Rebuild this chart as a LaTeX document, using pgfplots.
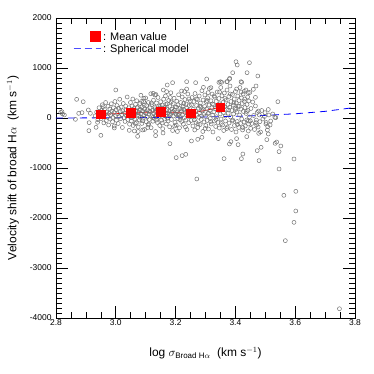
\documentclass[border=0pt]{standalone}
\usepackage{amsmath}
\usepackage{fontspec}
\setmainfont{Liberation Sans}
\usepackage{pgfplots}
\usepackage{pgfplotstable}
\pgfplotsset{compat=1.18}

% velocity shift vs log sigma, individual objects
\pgfplotstableread{
x y
2.816 113
2.822 80
2.820 127
2.828 60
2.865 -27
2.869 373
2.876 93
2.887 107
2.891 326
2.908 160
2.910 -253
2.911 -93
2.915 93
2.934 -187
2.939 -87
2.950 -347
2.958 227
2.995 -200
3.000 560
3.045 -247
3.073 -367
3.075 -270
3.090 -240
3.133 -353
3.181 -513
3.202 -793
3.222 -753
3.234 -727
3.271 -1220
3.253 -460
3.274 -427
3.288 -387
3.343 -413
3.362 -813
3.380 -520
3.385 -473
3.409 -533
3.404 -413
3.420 -813
3.425 -720
3.438 -373
3.451 -207
3.479 -853
3.473 -653
3.486 -587
3.478 -307
3.507 -240
3.510 -320
3.505 -433
3.538 -480
3.533 -507
3.552 -560
3.546 -673
3.546 -1020
3.596 -820
3.562 -1547
3.602 -1467
3.602 -1860
3.596 -2087
3.567 -2453
3.748 -3815
3.502 -120
3.508 -173
3.516 -140
3.469 -93
3.482 -73
3.402 1126
3.406 1060
3.447 1106
3.439 906
3.475 840
3.391 906
3.304 780
3.237 726
3.267 706
3.190 706
3.172 660
3.419 726
3.380 780
3.371 726
3.350 726
3.542 326
3.469 640
3.460 573
3.467 413
3.499 107
3.512 60
3.532 13
3.159 560
3.170 527
3.220 540
3.237 580
3.293 613
3.309 507
3.125 493
3.131 460
3.094 393
3.404 580
3.430 533
3.443 507
3.318 607
3.354 713
3.345 713
3.373 727
3.381 793
3.421 713
3.477 140
3.535 7
3.471 -140
3.443 -60
2.931 42
2.936 118
2.940 -35
2.944 205
2.947 88
2.951 -12
2.953 150
2.955 265
2.958 31
2.960 -98
2.962 172
2.964 74
2.966 310
2.968 -55
2.970 120
2.972 22
2.974 235
2.976 -140
2.978 95
2.980 180
2.981 -20
2.983 60
2.985 285
2.987 140
2.989 -75
2.990 10
2.992 205
2.994 110
2.995 -160
2.997 330
2.999 48
3.001 165
3.002 -45
3.004 250
3.006 85
3.008 -110
3.009 195
3.011 30
3.013 375
3.015 128
3.016 -15
3.018 220
3.020 68
3.022 -190
3.023 145
3.025 290
3.027 5
3.029 102
3.031 -70
3.033 240
3.034 160
3.036 40
3.038 420
3.040 -30
3.042 125
3.044 205
3.046 -125
3.047 80
3.049 310
3.050 18
3.051 150
3.052 -60
3.054 240
3.055 95
3.057 380
3.058 -150
3.060 30
3.061 190
3.063 70
3.064 -20
3.066 275
3.067 130
3.069 -95
3.070 345
3.072 55
3.073 210
3.075 -180
3.076 110
3.078 160
3.079 -40
3.081 290
3.082 12
3.084 455
3.085 85
3.087 -110
3.088 225
3.090 140
3.091 -5
3.093 330
3.094 60
3.096 -230
3.097 180
3.099 105
3.100 400
3.102 -75
3.103 250
3.105 20
3.106 165
3.108 -140
3.109 310
3.111 75
3.112 -30
3.114 205
3.115 120
3.117 485
3.118 -195
3.120 45
3.121 265
3.123 150
3.124 -65
3.126 355
3.127 90
3.129 -10
3.130 220
3.132 135
3.133 -270
3.135 60
3.136 300
3.138 175
3.139 -90
3.141 410
3.142 15
3.144 240
3.145 100
3.147 -150
3.148 190
3.150 325
3.151 50
3.153 -45
3.154 145
3.156 260
3.157 -215
3.159 80
3.160 375
3.162 125
3.163 -20
3.165 215
3.166 440
3.168 35
3.169 -120
3.171 170
3.172 285
3.174 95
3.175 -60
3.177 350
3.178 140
3.180 -175
3.181 230
3.183 65
3.184 505
3.186 -30
3.187 180
3.189 110
3.190 -250
3.192 290
3.193 40
3.195 395
3.196 155
3.198 -85
3.199 220
3.201 75
3.202 -140
3.204 335
3.205 120
3.207 -10
3.208 265
3.210 465
3.211 90
3.213 -195
3.214 190
3.216 30
3.217 310
3.219 145
3.220 -70
3.222 420
3.223 60
3.225 235
3.226 -125
3.228 170
3.229 5
3.231 370
3.232 110
3.234 -40
3.235 280
3.237 195
3.238 -230
3.240 85
3.241 480
3.243 150
3.244 -95
3.246 250
3.247 25
3.249 340
3.250 120
3.053 10
3.059 120
3.065 -110
3.071 205
3.077 45
3.083 170
3.089 -55
3.095 255
3.101 90
3.107 -190
3.113 140
3.119 300
3.125 15
3.131 185
3.137 -40
3.143 95
3.149 230
3.155 -100
3.161 160
3.167 270
3.173 -5
3.179 80
3.185 320
3.191 130
3.197 -160
3.203 215
3.209 55
3.215 -35
3.221 180
3.227 290
3.233 -180
3.239 140
3.245 380
3.062 -260
3.086 330
3.110 -120
3.134 470
3.158 -300
3.182 410
3.206 -270
3.230 530
3.252 -50
3.253 260
3.255 410
3.256 80
3.258 -160
3.259 175
3.261 330
3.262 20
3.264 -240
3.265 490
3.267 135
3.268 -90
3.270 250
3.271 55
3.273 370
3.274 -190
3.276 195
3.277 15
3.279 440
3.280 105
3.282 -130
3.283 300
3.285 220
3.286 -30
3.288 545
3.289 140
3.291 -270
3.292 360
3.294 70
3.295 -80
3.297 230
3.298 460
3.300 30
3.301 -150
3.303 320
3.304 180
3.306 -50
3.307 405
3.309 90
3.310 -220
3.312 260
3.313 590
3.315 150
3.316 -10
3.318 345
3.319 -120
3.321 205
3.322 480
3.324 60
3.325 -280
3.327 270
3.328 120
3.330 -60
3.331 415
3.333 190
3.334 -170
3.336 330
3.337 25
3.339 520
3.340 240
3.342 -90
3.343 150
3.345 390
3.346 -200
3.348 285
3.349 80
3.351 610
3.352 -20
3.354 200
3.355 445
3.357 -140
3.358 310
3.360 110
3.361 -250
3.363 500
3.364 225
3.366 40
3.367 -60
3.369 360
3.370 170
3.372 560
3.373 -180
3.375 270
3.376 95
3.378 430
3.379 -100
3.381 215
3.382 640
3.384 20
3.385 330
3.387 -230
3.388 150
3.390 470
3.391 -40
3.393 255
3.394 80
3.396 380
3.397 -150
3.399 200
3.400 530
3.402 -280
3.403 300
3.405 120
3.406 -70
3.408 440
3.409 240
3.411 -190
3.412 350
3.414 60
3.415 610
3.417 -110
3.418 180
3.420 400
3.421 -20
3.423 290
3.424 -240
3.426 480
3.427 130
3.429 -80
3.430 330
3.432 210
3.433 -160
3.435 560
3.436 90
3.438 -40
3.439 270
3.441 420
3.442 150
3.444 -120
3.445 340
3.447 20
3.448 510
3.450 -60
3.257 120
3.263 -40
3.269 380
3.275 -120
3.281 240
3.287 40
3.293 170
3.299 -210
3.305 350
3.311 100
3.317 -70
3.323 280
3.329 440
3.335 -30
3.341 190
3.347 520
3.353 -110
3.359 250
3.365 390
3.371 -210
3.377 160
3.383 480
3.389 -60
3.395 300
3.401 170
3.407 -130
3.413 230
3.419 520
3.425 -190
3.431 380
3.437 130
3.443 -260
3.452 190
3.455 -110
3.458 320
3.461 50
3.464 -230
3.467 240
3.470 -40
3.473 110
3.476 -180
3.480 60
3.484 -280
3.488 150
3.492 -20
3.497 30
3.503 -90
3.510 170
3.518 -60
3.525 80
}\objects

\pgfplotstableread{
x y
2.95 73
3.05 100
3.15 127
3.25 93
3.35 213
}\means

\pgfplotstableread{
x y
2.8 1
2.9 2
3.0 5
3.1 8
3.2 13
3.3 21
3.4 33
3.5 53
3.6 84
3.7 133
3.8 211
}\model

\begin{document}
\begin{tikzpicture}
\begin{axis}[
    name=ax,
    scale only axis,
    width=299bp, height=300bp,
    xmin=2.8, xmax=3.8,
    ymin=-4000, ymax=2000,
    xtick={2.8,3.0,...,3.8},
    minor x tick num=3,
    ytick={-4000,-3000,...,2000},
    minor y tick num=9,
    tick align=inside,
    major tick length=12bp,
    minor tick length=6bp,
    every tick/.style={black, line width=0.6bp},
    axis line style={black, line width=0.7bp},
    /pgf/number format/assume math mode=true,
    /pgf/number format/1000 sep={},
    xticklabel style={/pgf/number format/fixed, /pgf/number format/fixed zerofill,
        /pgf/number format/precision=1, yshift=2bp},
    ticklabel style={font=\fontsize{8.5}{9}\selectfont},
    yticklabel style={xshift=-1bp},
    xlabel={log $\sigma_{\text{Broad H}\alpha}$~~(km s$^{-1}$)},
    ylabel={Velocity shift of broad H$\alpha$~~(km s$^{-1}$)},
    every axis x label/.style={at={([yshift=-35bp]rel axis cs:0.5,0)}, anchor=center,
        font=\fontsize{12}{14}\selectfont},
    every axis y label/.style={at={([xshift=-43bp]rel axis cs:0,0.5)}, anchor=center,
        rotate=90, font=\fontsize{12}{14}\selectfont},
    legend style={draw=none, fill=none, at={(axis cs:2.857,1760)}, anchor=north west,
        font=\fontsize{11}{11}\selectfont, row sep=-1.5bp, inner sep=0pt,
        /tikz/every even column/.append style={column sep=1bp}},
    legend cell align=left,
    reverse legend,
]
\addplot[only marks, mark=o, mark size=2bp, draw=black!55, mark options={line width=0.5bp},
    forget plot] table[x=x, y=y] {\objects};

\addplot[blue, line width=0.8bp, dash pattern=on 7bp off 5bp,
    legend image code/.code={\draw[blue!70, line width=0.9bp, dash pattern=on 7bp off 4bp]
        (0bp,0bp) -- (27bp,0bp);}] table[x=x, y=y] {\model};
\addlegendentry{: Spherical model}

\addplot[red, line width=0.7bp, mark=square*, mark size=4.3bp, mark options={solid, fill=red},
    legend image code/.code={\fill[red] (17bp,-4.8bp) rectangle (27bp,5.2bp);}]
    table[x=x, y=y] {\means};
\addlegendentry{: Mean value}

\coordinate (bl) at (rel axis cs:0,0);
\coordinate (tr) at (rel axis cs:1,1);
\end{axis}
\path ([shift={(-56bp,-56bp)}]bl) rectangle ([shift={(19bp,18bp)}]tr);
\end{tikzpicture}
\end{document}
